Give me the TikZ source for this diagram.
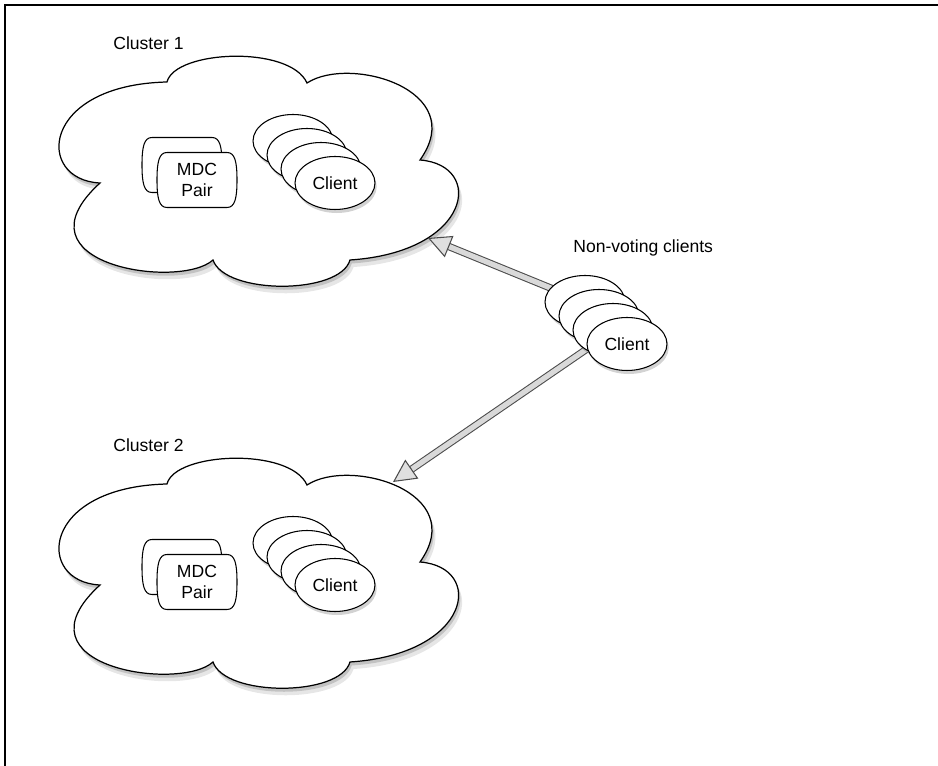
\documentclass[tikz,border=0pt]{standalone}
\usepackage{fontspec}
\setmainfont{Liberation Sans}
\usepackage{tikz}
\usetikzlibrary{arrows.meta,shadows,shapes.geometric}

\tikzset{
	softshadow/.style={drop shadow={shadow xshift=1pt, shadow yshift=-2pt, opacity=0.35},
		drop shadow={shadow xshift=2pt, shadow yshift=-4pt, opacity=0.2}},
	mdcline/.style={draw, line width=0.6pt, fill=white},
	mdctext/.style={inner sep=0pt, align=center, font=\fontsize{10}{11.5}\selectfont},
	clientbox/.style={draw, line width=0.6pt, fill=white, ellipse, minimum width=1.6cm, minimum height=1.06cm,
		inner sep=0pt, font=\fontsize{10}{12}\selectfont,
		drop shadow={shadow xshift=1pt, shadow yshift=-2pt, opacity=0.35}},
	fatarrow/.style={draw=gray!60!black, line width=0.6pt, double=gray!30, double distance=3pt,
		-{Triangle[length=13pt, width=13pt, fill=gray!25]}},
	label/.style={anchor=west, inner sep=0pt, font=\fontsize{10}{12}\selectfont}
}

\newcommand{\clustercloud}[2] % {x}{y} decalage du nuage
{
	\draw [line width=0.7pt, fill=white, shift={(#1,#2)}, softshadow]
		(100,183) .. controls (35,180) and (40,85) .. (167,82)
		.. controls (175,50) and (290,45) .. (307,83)
		.. controls (350,55) and (470,90) .. (420,160)
		.. controls (485,165) and (472,252) .. (350,260)
		.. controls (340,295) and (225,295) .. (213,260)
		.. controls (180,290) and (10,265) .. (100,183) -- cycle;
}
\newcommand{\mdcoutline}[2] % {x}{y} centre du bloc
{
	\draw [mdcline, shift={(#1,#2)}] (-30,-27.5) -- (30,-27.5)
		.. controls (38,-27.5) and (40,-18) .. (40,0)
		.. controls (40,18) and (38,27.5) .. (30,27.5) -- (-30,27.5)
		.. controls (-38,27.5) and (-40,18) .. (-40,0)
		.. controls (-40,-18) and (-38,-27.5) .. (-30,-27.5) -- cycle;
}
\newcommand{\mdcpair}[3] % {nom}{x}{y} centre de la paire de devant
{
	\mdcoutline{#2-15}{#3-15}
	\mdcoutline{#2}{#3}
	\node [mdctext] (#1) at (#2,#3) {MDC\\Pair};
}
\newcommand{\clientstack}[3] % {nom}{x}{y} centre du client de devant
{
	\foreach \k in {3,2,1}
		\node [clientbox] (#1\k) at (#2-14*\k,#3-14*\k) {};
	\node [clientbox] (#1) at (#2,#3) {Client};
}

\begin{document}
\begin{tikzpicture}[x=0.02cm, y=-0.02cm]
	\useasboundingbox (0,0) rectangle (938,766);
	\draw [line width=1.2pt] (938,5) -- (5,5) -- (5,766);

	% cluster 1
	\node [label] (c1lab) at (113,43) {Cluster 1};
	\clustercloud{0}{0}
	\mdcpair{mdc1}{197}{180}
	\clientstack{cl1}{335}{183}

	% cluster 2
	\node [label] (c2lab) at (113,445) {Cluster 2};
	\clustercloud{0}{402}
	\mdcpair{mdc2}{197}{582}
	\clientstack{cl2}{335}{585}

	% clients sans vote
	\coordinate (c1in) at (428,238);
	\coordinate (c2in) at (393,482);
	\coordinate (nvsrc1) at (575,298);
	\coordinate (nvsrc2) at (600,340);
	\draw [fatarrow] (nvsrc1) -- (c1in);
	\draw [fatarrow] (nvsrc2) -- (c2in);
	\clientstack{nv}{627}{344}
	\node [label] (nvlab) at (573,248) {Non-voting clients};
\end{tikzpicture}
\end{document}
